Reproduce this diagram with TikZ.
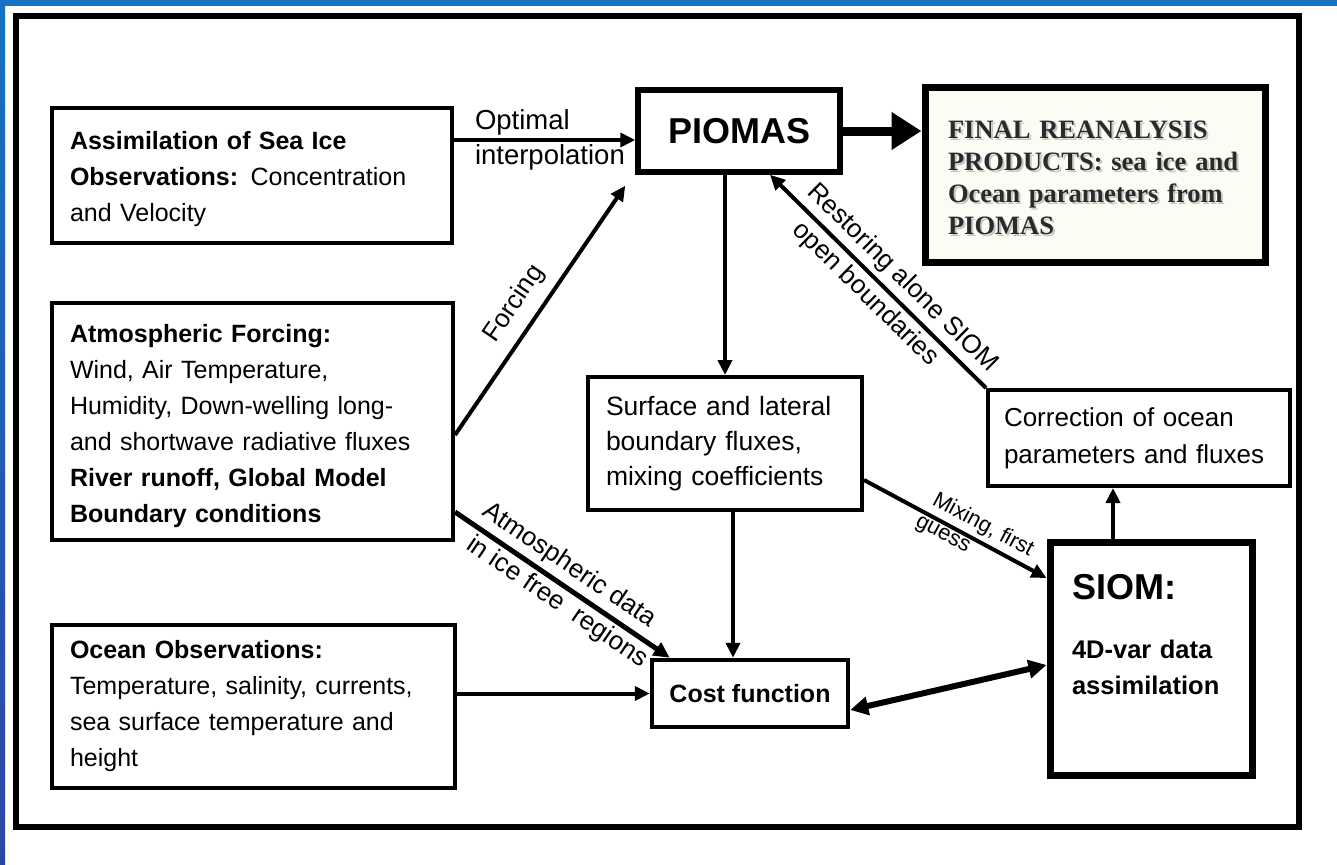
\documentclass[tikz,border=0pt]{standalone}
\usepackage{fontspec}
\setmainfont{Liberation Sans}
\newfontfamily\finalfont{Liberation Serif}
\usetikzlibrary{arrows.meta,calc}
\definecolor{frameblue}{HTML}{1572C2}
\definecolor{frameblue2}{HTML}{2E45A8}
\definecolor{finalfill}{HTML}{FCFBF4}
\definecolor{finaltext}{HTML}{2A2A2A}
\newcommand{\finaltxt}{\rule{0pt}{24pt}FINAL REANALYSIS\\PRODUCTS: sea ice and\\Ocean parameters from\\PIOMAS}
\begin{document}
\begin{tikzpicture}[x=1pt,y=-1pt,
  box/.style={draw=black, line width=4pt, fill=white, rectangle, inner ysep=0pt, align=left,
    font=\fontsize{25}{36}\selectfont},
  conn/.style={line width=4pt, -{Triangle[length=15pt,width=14pt]}},
  lbl/.style={font=\fontsize{26}{30}\selectfont, inner sep=2pt},
  finalfnt/.style={font=\finalfont\bfseries\fontsize{26.5}{32}\selectfont},
]
\useasboundingbox (0,0) rectangle (1337,864);
\fill[white] (0,0) rectangle (1337,864);
\shade[top color=frameblue, bottom color=frameblue2] (0,0) rectangle (5,864);
\fill[frameblue] (0,0) rectangle (1337,6);
\draw[line width=6pt] (16,16) rectangle (1299,827);

% boxes
\node[box, minimum width=400pt, minimum height=135pt, text width=364pt, inner xsep=18pt] (assim) at (252,175.5)
  {\rule{0pt}{26pt}\textbf{Assimilation of Sea Ice}\\\textbf{Observations:} Concentration\\and Velocity};
\node[box, minimum width=401pt, minimum height=237pt, text width=365pt, inner xsep=18pt] (atmos) at (252.5,421.5)
  {\rule{0pt}{28pt}\textbf{Atmospheric Forcing:}\\Wind, Air Temperature,\\Humidity, Down-welling long-\\and shortwave radiative fluxes\\\textbf{River runoff, Global Model}\\\textbf{Boundary conditions}};
\node[box, minimum width=403pt, minimum height=163pt, text width=367pt, inner xsep=18pt] (ocean) at (253.5,706.5)
  {\textbf{Ocean Observations:}\\Temperature, salinity, currents,\\sea surface temperature and\\height};
\node[box, line width=5.5pt, minimum width=202pt, minimum height=82pt, align=center,
  font=\fontsize{36}{40}\selectfont\bfseries] (piomas) at (739,131) {PIOMAS};
\node[box, line width=7pt, fill=finalfill, minimum width=340pt, minimum height=174pt, text width=294pt,
  inner xsep=23pt, finalfnt, text=finaltext,
  path picture={\node[finalfnt, text=gray!45, text width=294pt, align=left, inner xsep=23pt, inner ysep=0pt]
     at ([xshift=2pt,yshift=-2pt]path picture bounding box.center) {\finaltxt};}] (final) at (1095,175)
  {\finaltxt};
\node[box, minimum width=274pt, minimum height=133pt, text width=238pt, inner xsep=18pt,
  font=\fontsize{26.5}{35}\selectfont] (surface) at (725,443.5)
  {Surface and lateral\\boundary fluxes,\\mixing coefficients};
\node[box, minimum width=302pt, minimum height=96pt, text width=270pt, inner xsep=16pt,
  font=\fontsize{26}{37}\selectfont] (correction) at (1139,438)
  {Correction of ocean\\parameters and fluxes};
\node[box, line width=7pt, minimum width=202pt, minimum height=233pt, text width=158pt, inner xsep=22pt,
  font=\fontsize{25.5}{36}\selectfont\bfseries] (siom) at (1151,658.5)
  {{\fontsize{36}{40}\selectfont\bfseries SIOM:}\\[23pt]4D-var data\\assimilation\\[12pt]\mbox{}};
\node[box, line width=4.5pt, minimum width=196pt, minimum height=67pt, align=center,
  font=\fontsize{25}{30}\selectfont\bfseries] (cost) at (750,693.5) {Cost function};

% connectors
\coordinate (oi) at ([yshift=-9pt]piomas.west);
\draw[conn] (assim.east |- oi) -- (oi)
  node[lbl, font=\fontsize{27.5}{30}\selectfont, pos=0, anchor=south west, xshift=17pt, yshift=1pt] {Optimal}
  node[lbl, font=\fontsize{27.5}{30}\selectfont, pos=0, anchor=north west, xshift=17pt, yshift=-1pt] {interpolation};
\draw[line width=9pt, -{Triangle[length=30pt,width=36pt]}] (piomas.east) -- (piomas.east -| final.west);
\draw[conn] ([yshift=-13.5pt]atmos.east) -- ([xshift=-10pt,yshift=-11pt]piomas.south west)
  node[lbl, pos=0.47, sloped, above=9pt] {Forcing};
\draw[conn] (surface.north |- piomas.south) -- (surface.north);
\draw[conn] ([xshift=8pt]surface.south) -- ([xshift=8pt]surface.south |- cost.north);
\draw[conn] (correction.north west) -- ([xshift=31pt]piomas.south)
  node[lbl, pos=0.45, sloped, above=3pt] {Restoring alone SIOM}
  node[lbl, pos=0.5, sloped, below=2pt] {open boundaries};
\draw[conn] ([yshift=-36.5pt]surface.east) -- ([yshift=80.5pt]siom.west)
  node[lbl, font=\fontsize{22}{24}\selectfont, pos=0.61, sloped, above=2pt] {Mixing, first}
  node[lbl, font=\fontsize{22}{24}\selectfont, pos=0.46, sloped, below=0pt] {guess};
\draw[line width=5pt, -{Triangle[length=16pt,width=15pt]}] ([yshift=-90.5pt]atmos.east) -- ([xshift=20pt]cost.north west)
  node[lbl, pos=0.48, sloped, above=3pt] {Atmospheric data}
  node[lbl, pos=0.52, sloped, below=1pt] {in ice free\ \ regions};
\draw[conn] (ocean.east |- cost.west) -- (cost.west);
\draw[line width=6pt, {Triangle[length=18pt,width=18pt]}-{Triangle[length=18pt,width=18pt]}]
  ([yshift=-16.5pt]cost.east) -- ([yshift=-6.5pt]siom.west);
\draw[conn] ([xshift=-38pt]siom.north) -- ([xshift=-38pt]siom.north |- correction.south);
\end{tikzpicture}
\end{document}
